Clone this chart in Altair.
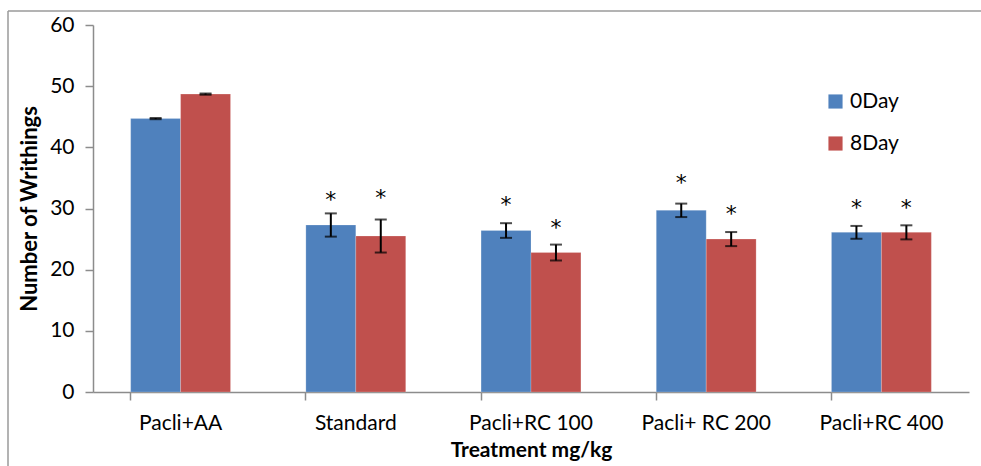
import altair as alt
import pandas as pd

categories = ["Pacli+AA", "Standard", "Pacli+RC 100", "Pacli+ RC 200", "Pacli+RC 400"]
series = ["0Day", "8Day"]
day0 = [44.7, 27.3, 26.4, 29.7, 26.1]
day8 = [48.7, 25.5, 22.8, 25.0, 26.1]
err0 = [0.1, 1.9, 1.2, 1.1, 1.05]
err8 = [0.1, 2.7, 1.3, 1.15, 1.15]
star0 = ["", "*", "*", "*", "*"]
star8 = ["", "*", "*", "*", "*"]
star_y0 = [0, 32.2, 31.4, 35.0, 30.9]
star_y8 = [0, 32.5, 27.7, 29.9, 30.9]

rows = []
for i, c in enumerate(categories):
    for s, v, e, st, sy in [("0Day", day0[i], err0[i], star0[i], star_y0[i]),
                            ("8Day", day8[i], err8[i], star8[i], star_y8[i])]:
        rows.append({"cat": c, "series": s, "value": v, "lo": v - e, "hi": v + e,
                     "star": st, "star_y": sy})
df = pd.DataFrame(rows)

FONT = "Lato"
xenc = alt.X("cat:N", sort=categories, title="Treatment mg/kg",
             scale=alt.Scale(paddingInner=0.43, paddingOuter=0.215),
             axis=alt.Axis(labelAngle=0, labelFontSize=21, labelColor="#000000",
                           labelFont=FONT, labelPadding=12, bandPosition=0,
                           tickColor="#8c8c8c", tickSize=8, domainColor="#8c8c8c",
                           domainWidth=1.5, tickWidth=1.5,
                           titleFontSize=21, titleFont=FONT, titleFontWeight="bold",
                           titleColor="#000000", titlePadding=6))
xoff = alt.XOffset("series:N", sort=series, scale=alt.Scale(paddingInner=0, paddingOuter=0))
yscale = alt.Scale(domain=[0, 60])

bars = alt.Chart(df).mark_bar(stroke="#ffffff", strokeWidth=0.5, strokeOpacity=0.4).encode(
    x=xenc, xOffset=xoff,
    y=alt.Y("value:Q", scale=yscale, title="Number of Writhings",
            axis=alt.Axis(values=[0, 10, 20, 30, 40, 50, 60], grid=False,
                          labelFontSize=21, labelFont=FONT, labelColor="#000000",
                          labelPadding=11, tickColor="#8c8c8c", tickSize=8,
                          domainColor="#8c8c8c", domainWidth=1.5, tickWidth=1.5,
                          titleFontSize=22, titleFont=FONT, titleFontWeight="bold",
                          titleColor="#000000", titlePadding=8)),
    color=alt.Color("series:N", sort=series,
                    scale=alt.Scale(domain=series, range=["#4F81BD", "#C0504D"]),
                    legend=alt.Legend(title=None, orient="none", legendX=732, legendY=66,
                                      symbolType="square", symbolSize=200,
                                      symbolStrokeWidth=0, labelFontSize=21,
                                      labelFont=FONT, labelColor="#000000",
                                      rowPadding=20, labelOffset=4)),
)

rules = alt.Chart(df).mark_rule(color="#000000", strokeWidth=2).encode(
    x=alt.X("cat:N", sort=categories), xOffset=xoff,
    y=alt.Y("lo:Q", scale=yscale), y2="hi:Q")

caps_lo = alt.Chart(df).mark_tick(color="#000000", thickness=2, size=12).encode(
    x=alt.X("cat:N", sort=categories), xOffset=xoff, y=alt.Y("lo:Q", scale=yscale))
caps_hi = alt.Chart(df).mark_tick(color="#000000", thickness=2, size=12).encode(
    x=alt.X("cat:N", sort=categories), xOffset=xoff, y=alt.Y("hi:Q", scale=yscale))

stars = alt.Chart(df).mark_text(fontSize=22, font="DejaVu Sans", color="#000000",
                                fill="#000000", baseline="middle", dy=5).encode(
    x=alt.X("cat:N", sort=categories), xOffset=xoff,
    y=alt.Y("star_y:Q", scale=yscale), text="star:N")

top_line = alt.Chart(pd.DataFrame({"a": [0]})).mark_rule(
    color="#9a9a9a", strokeWidth=1.5).encode(
    x=alt.value(-85), x2=alt.value(900), y=alt.value(-14))
left_line = alt.Chart(pd.DataFrame({"a": [0]})).mark_rule(
    color="#9a9a9a", strokeWidth=1.5).encode(
    x=alt.value(-85), y=alt.value(-14), y2=alt.value(460))

chart = alt.layer(top_line, left_line, bars, rules, caps_lo, caps_hi, stars).properties(
    width=876, height=367,
    padding={"left": 93, "top": 25, "right": 12, "bottom": 74},
    autosize=alt.AutoSizeParams(type="none"),
    background="#ffffff",
).configure_view(stroke=None)

chart.save("out.html", embed_options={"renderer": "svg", "actions": False})
